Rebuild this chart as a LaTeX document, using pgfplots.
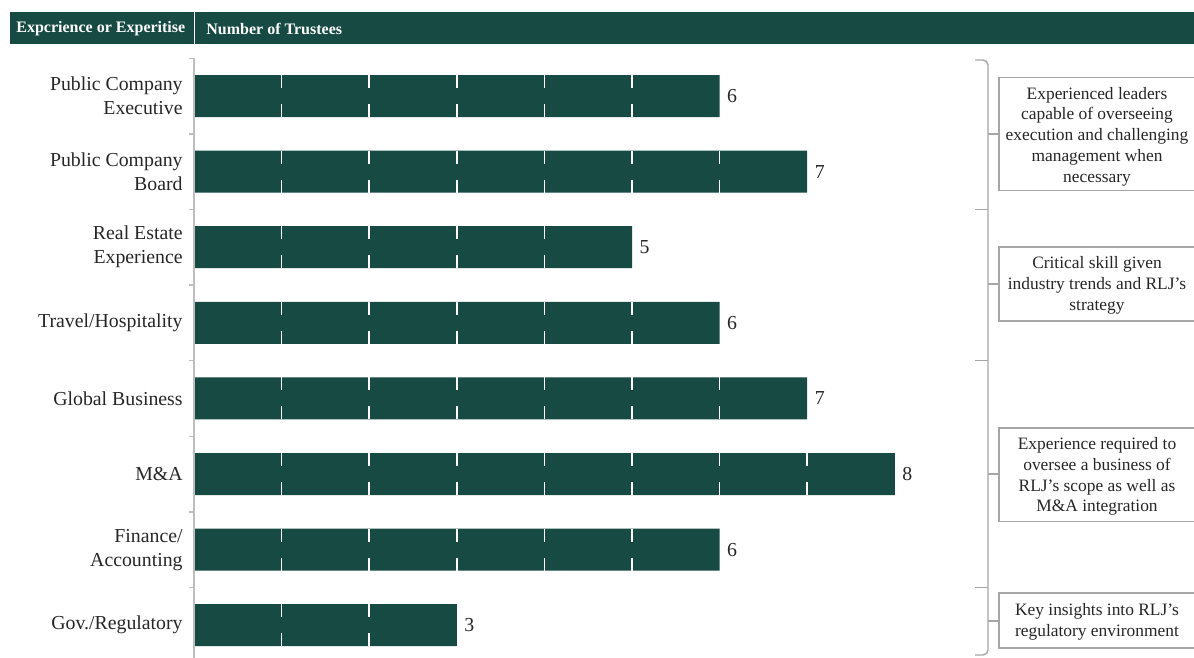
\documentclass[border=0pt]{standalone}
\usepackage{fontspec}
\setmainfont{Liberation Serif}
\usepackage{pgfplots}
\pgfplotsset{compat=1.18}
\definecolor{bargreen}{RGB}{22,74,67}
\definecolor{axgray}{RGB}{190,190,190}
\definecolor{boxgray}{RGB}{166,166,166}
\definecolor{txt}{RGB}{38,38,38}
\begin{document}
\begin{tikzpicture}
\path[use as bounding box] (0,0) rectangle (597pt,-329pt);
\begin{scope}[x=0.5pt,y=-0.5pt]
\fill[bargreen] (10,12) rectangle (1200,44);
\draw[white,line width=0.6pt] (194.5,12) -- (194.5,44);
\node[anchor=west,text=white,font=\fontsize{8}{9.6}\selectfont\bfseries,inner sep=0pt] at (16,28.5) {Expcrience or Experitise};
\node[anchor=west,text=white,font=\fontsize{8}{9.6}\selectfont\bfseries,inner sep=0pt] at (206,28.5) {Number of Trustees};
% bracket
\draw[boxgray,line width=0.7pt,rounded corners=2.5pt] (975,60) -- (988,60) -- (988,655) -- (975,655);
\draw[boxgray,line width=0.7pt] (975,209.4) -- (988,209.4);
\draw[boxgray,line width=0.7pt] (975,360.6) -- (988,360.6);
\draw[boxgray,line width=0.7pt] (975,587.6) -- (988,587.6);
\draw[boxgray,line width=0.7pt] (988,134) -- (999,134);
\draw[boxgray,line width=0.7pt] (988,284) -- (999,284);
\draw[boxgray,line width=0.7pt] (988,474) -- (999,474);
\draw[boxgray,line width=0.7pt] (988,621) -- (999,621);
% boxes
\draw[boxgray,line width=0.75pt] (999,77.5) rectangle (1200,190.5);
\draw[boxgray,line width=0.75pt] (999,247) rectangle (1200,321);
\draw[boxgray,line width=0.75pt] (999,428) rectangle (1200,521.5);
\draw[boxgray,line width=0.75pt] (999,593) rectangle (1200,648);
\begin{scope}[every node/.style={align=center,text=txt,font=\fontsize{8.7}{10.4}\selectfont,inner sep=0pt}]
\node at (1097,136.5) {Experienced leaders\\capable of overseeing\\execution and challenging\\management when\\necessary};
\node at (1097,285.5) {Critical skill given\\industry trends and RLJ’s\\strategy};
\node at (1097,476.5) {Experience required to\\oversee a business of\\RLJ’s scope as well as\\M\&A integration};
\node at (1097,621.5) {Key insights into RLJ’s\\regulatory environment};
\end{scope}
\end{scope}
\begin{axis}[
  at={(97pt,-29.1pt)}, anchor=north west,
  x=43.8pt, y=37.8pt,
  xmin=0, xmax=9, ymin=-0.5, ymax=7.5,
  y dir=reverse,
  axis lines*=left,
  x axis line style={draw=none},
  y axis line style={axgray,line width=0.8pt},
  axis on top,
  xtick=\empty,
  ytick={0,...,7},
  yticklabels={{Public Company\\Executive},{Public Company\\Board},{Real Estate\\Experience},{Travel/Hospitality},{Global Business},{M\&A},{Finance/\\Accounting},{Gov./Regulatory}},
  yticklabel style={align=right,text=txt,font=\fontsize{9.9}{12}\selectfont,inner sep=0pt,xshift=-5.5pt},
  minor ytick={-0.5,0.5,...,6.5},
  tick align=outside,
  major tick length=0pt,
  minor tick length=2.5pt,
  minor tick style={axgray,line width=0.7pt},
  /pgf/number format/assume math mode=true,
]
\addplot[xbar, bar width=21pt, fill=bargreen, draw=none,
  point meta=x, nodes near coords,
  every node near coord/.append style={font=\fontsize{9.9}{12}\selectfont,text=txt,anchor=west,inner sep=0pt,xshift=3.6pt,
    /pgf/number format/assume math mode=true}]
  coordinates {(6,0) (7,1) (5,2) (6,3) (7,4) (8,5) (6,6) (3,7)};
% white unit dividers inside each bar
\addplot[only marks, mark=|, mark size=10.5pt,
  mark options={white, line width=0.75pt, dash pattern=on 6.5pt off 8pt on 6.5pt off 40pt}]
  coordinates {
  (1,0) (2,0) (3,0) (4,0) (5,0)
  (1,1) (2,1) (3,1) (4,1) (5,1) (6,1)
  (1,2) (2,2) (3,2) (4,2)
  (1,3) (2,3) (3,3) (4,3) (5,3)
  (1,4) (2,4) (3,4) (4,4) (5,4) (6,4)
  (1,5) (2,5) (3,5) (4,5) (5,5) (6,5) (7,5)
  (1,6) (2,6) (3,6) (4,6) (5,6)
  (1,7) (2,7)};
\end{axis}
\end{tikzpicture}
\end{document}
